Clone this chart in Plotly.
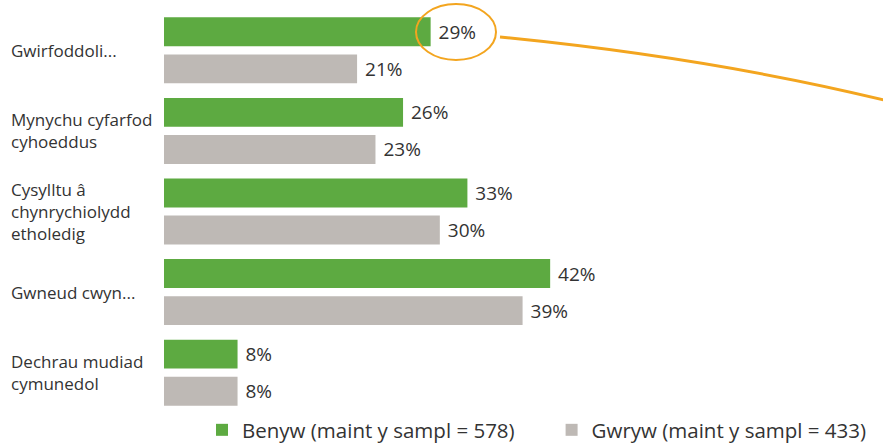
import plotly.graph_objects as go

categories = ["Gwirfoddoli...", "Mynychu cyfarfod<br>cyhoeddus", "Cysylltu â<br>chynrychiolydd<br>etholedig",
              "Gwneud cwyn...", "Dechrau mudiad<br>cymunedol"]
cat_keys = ["Gwirfoddoli", "Mynychu", "Cysylltu", "Gwneud", "Dechrau"]
benyw = [29, 26, 33, 42, 8]
gwryw = [21, 23, 30, 39, 8]
series_names = ["Benyw (maint y sampl = 578)", "Gwryw (maint y sampl = 433)"]

GREEN = "#5DAA41"
GREY = "#BEB9B5"
ORANGE = "#F3A51F"
TXT = "#333333"
FONT = "Open Sans"

W, H = 883, 446
ML, MR, MT, MB = 164, 0, 10, 33
PW, PH = W - ML - MR, H - MT - MB

def px(x):
    return (x - ML) / PW

def py(y):
    return (H - MB - y) / PH

fig = go.Figure()
for i, (name, vals, col) in enumerate([(series_names[0], benyw, GREEN), (series_names[1], gwryw, GREY)]):
    fig.add_trace(go.Bar(
        y=cat_keys, x=vals, orientation="h",
        name=name + ("\u00a0" * 6 if i == 0 else ""),
        marker=dict(color=col, line=dict(width=0)),
        text=[f" {v}%" for v in vals], textposition="outside",
        textfont=dict(family=FONT, size=19, color=TXT),
        cliponaxis=False, hoverinfo="skip",
    ))

for key, lab in zip(cat_keys, categories):
    fig.add_annotation(
        x=px(9), xref="paper", y=key, yref="y", xanchor="left", yanchor="middle",
        text=lab, showarrow=False, align="left",
        font=dict(family=FONT, size=17, color=TXT),
    )

# hand-drawn highlight around the 29% label
fig.add_shape(type="circle", xref="paper", yref="paper",
              x0=px(416), x1=px(496), y0=py(60), y1=py(4),
              line=dict(color=ORANGE, width=2))
fig.add_shape(type="path", xref="paper", yref="paper",
              path=f"M {px(500)},{py(37)} Q {px(708)},{py(57.5)} {px(884)},{py(100)}",
              line=dict(color=ORANGE, width=3))

fig.update_layout(
    width=W, height=H,
    margin=dict(l=ML, r=MR, t=MT, b=MB, autoexpand=False),
    paper_bgcolor="white", plot_bgcolor="white",
    barmode="group", bargap=0.08, bargroupgap=0.22,
    xaxis=dict(range=[0, 78.2], visible=False, fixedrange=True),
    yaxis=dict(autorange="reversed", showticklabels=False, showgrid=False,
               zeroline=False, showline=False, ticks="", fixedrange=True),
    showlegend=True,
    legend=dict(orientation="h", x=px(202), xanchor="left", y=py(430), yanchor="middle",
                font=dict(family=FONT, size=20.5, color=TXT), bgcolor="rgba(0,0,0,0)",
                traceorder="normal"),
    font=dict(family=FONT, color=TXT),
)

fig.write_html("out.html", config={"displayModeBar": False},
               post_script="document.body.style.margin='0';")
